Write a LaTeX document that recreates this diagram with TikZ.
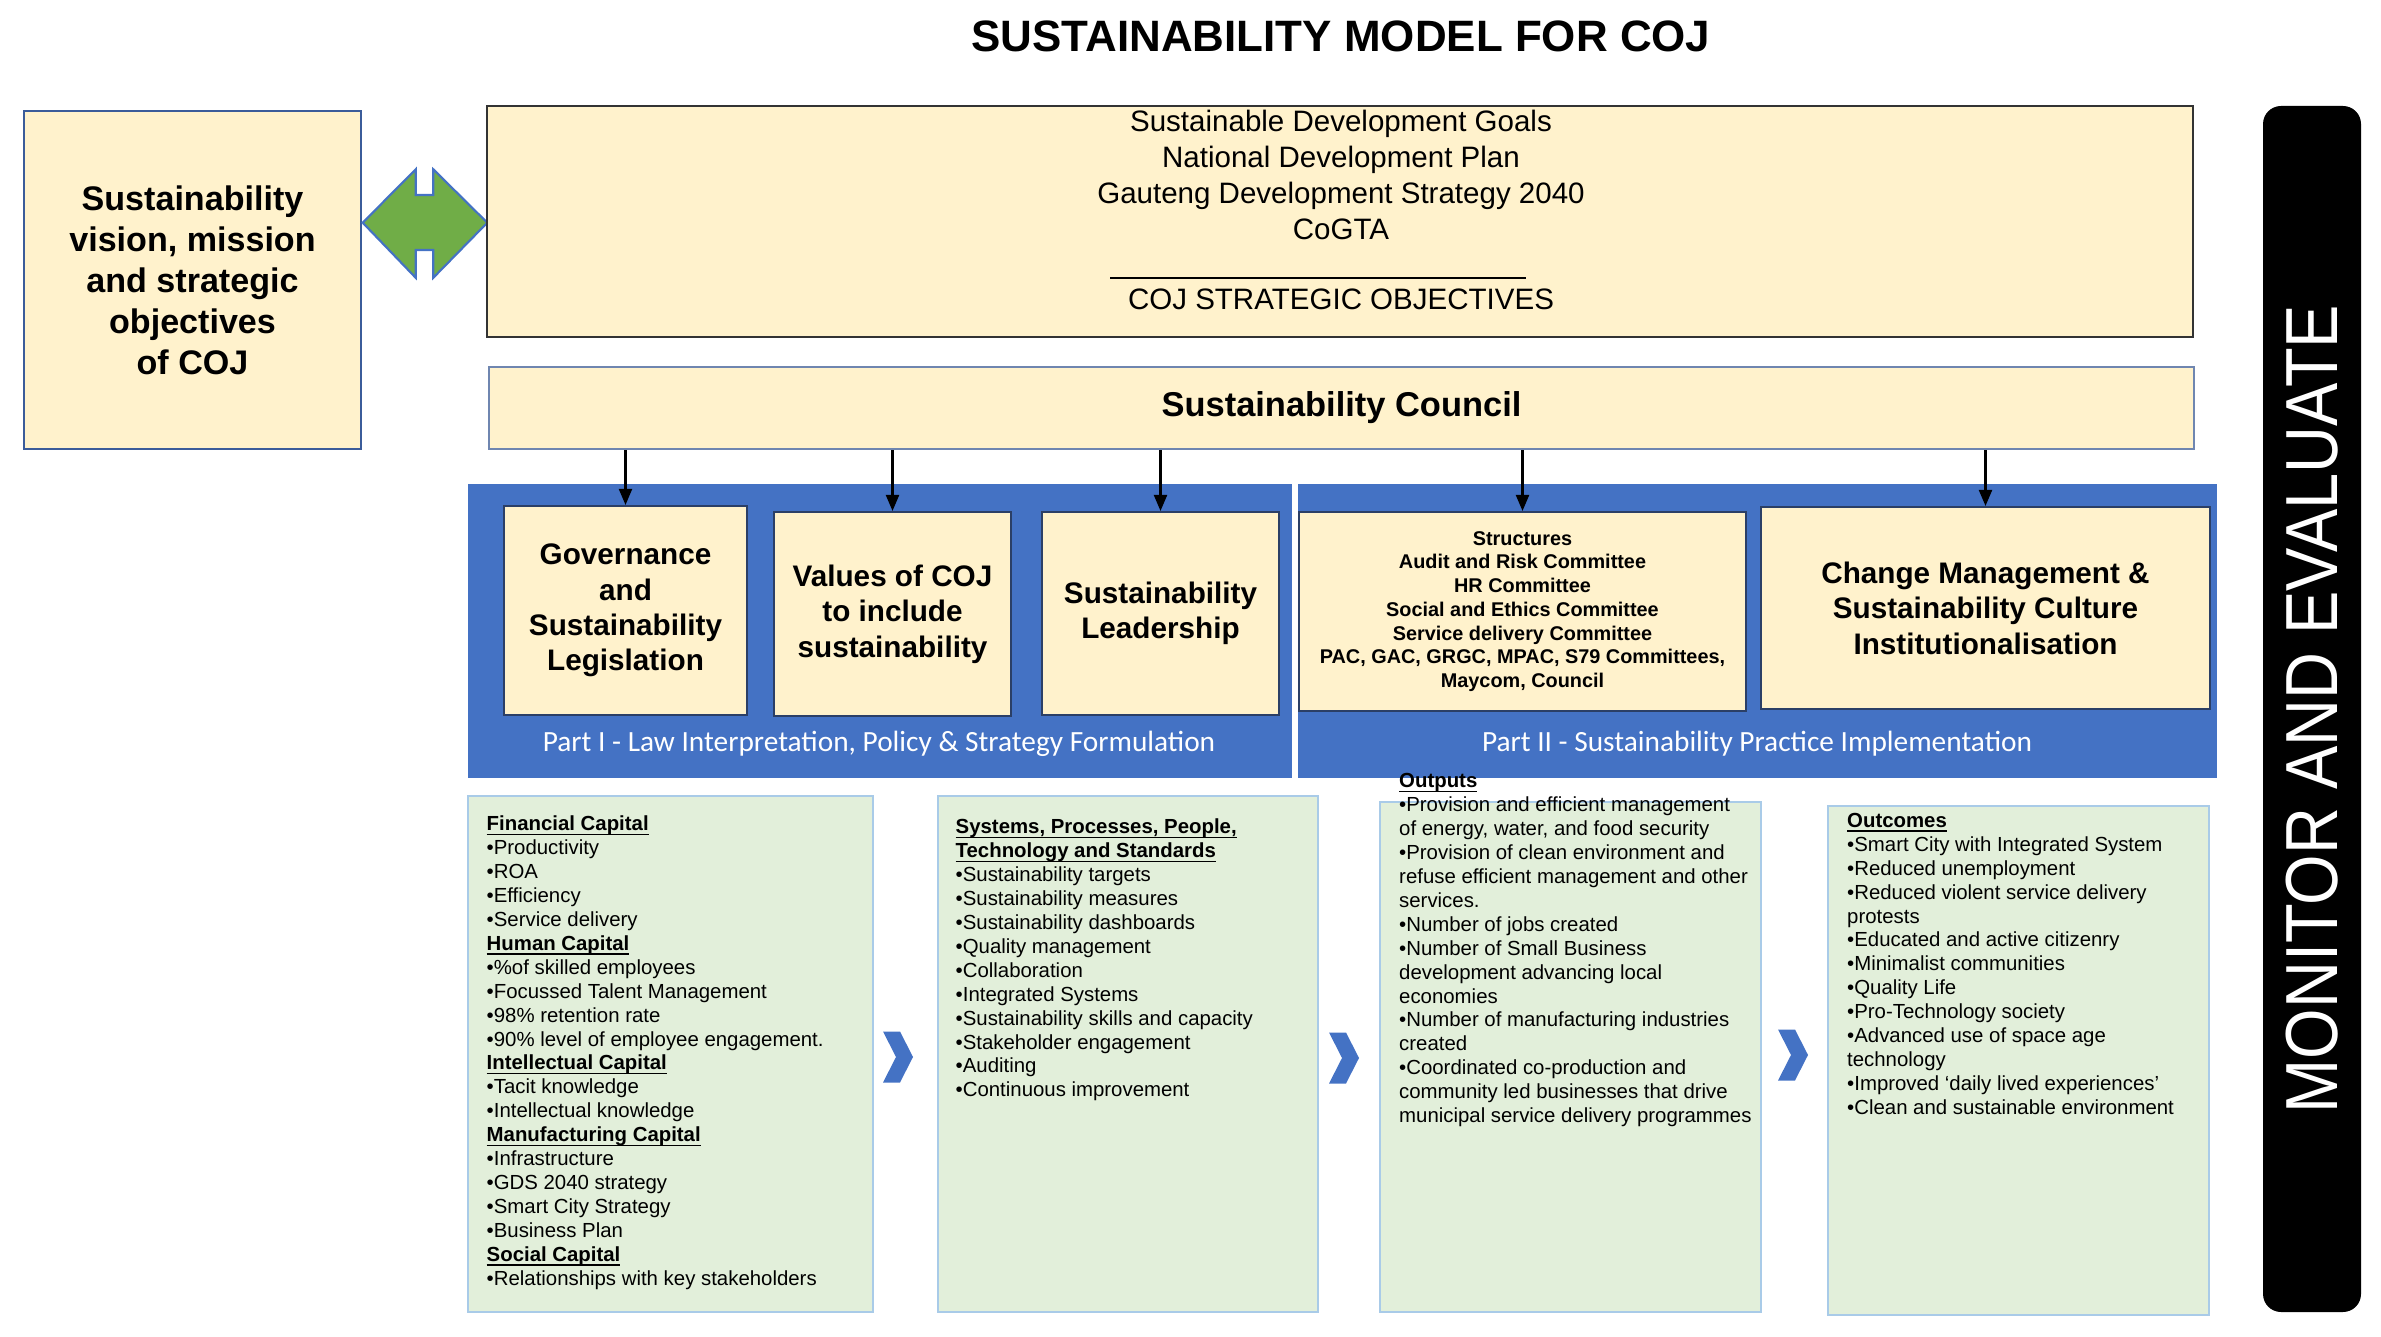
\documentclass[tikz,border=0pt]{standalone}
\usepackage{fontspec}
\usepackage{graphicx}
\setmainfont{Liberation Sans}
\newfontfamily\calibrifont{Carlito}
\usetikzlibrary{positioning,arrows.meta}
\definecolor{PaleCream}{HTML}{FFF2CC}
\definecolor{RoyalBlue}{HTML}{4472C4}
\definecolor{EdgeBlue}{HTML}{3B5C9A}
\definecolor{DarkEdge}{HTML}{2B3F66}
\definecolor{CouncilEdge}{HTML}{6F86B0}
\definecolor{FrameGray}{HTML}{333333}
\definecolor{LeafGreen}{HTML}{70AD47}
\definecolor{MintWash}{HTML}{E2EFDA}
\definecolor{SkyEdge}{HTML}{A9CBE8}
\newcommand\tightlines{\lineskiplimit-20pt\relax}
% bold heading with a rule close under the baseline
\newcommand\capheading[1]{\setbox0\hbox{\textbf{#1}}\rlap{\vrule height-0.85pt depth1.25pt width\wd0}\box0}

\begin{document}
\begin{tikzpicture}[x=1cm,y=-1cm,
  cream/.style={draw=EdgeBlue,line width=0.6pt,fill=PaleCream,inner sep=2pt,align=center},
  pillar/.style={cream,draw=DarkEdge,font=\bfseries\fontsize{8.45}{10.07}\selectfont},
  panelbox/.style={fill=RoyalBlue,draw=none},
  listbox/.style={draw=SkyEdge,line width=0.6pt,fill=MintWash},
  listtext/.style={anchor=north west,inner sep=0pt,align=left,font=\fontsize{5.8}{6.8}\selectfont\tightlines},
  feed/.style={-{Triangle[length=1.6mm,width=1.3mm]},line width=0.6pt}]
  \useasboundingbox (0,0) rectangle (23.81,13.37);

  \node[font=\bfseries\fontsize{12.5}{15}\selectfont] (title) at (13.41,0.36) {SUSTAINABILITY MODEL FOR COJ};

  % vision box and the link to the frameworks
  \node[cream,minimum width=3.37cm,minimum height=3.38cm,font=\bfseries\fontsize{9.7}{11.66}\selectfont] (vision) at (1.925,2.80)
    {Sustainability\\vision, mission\\and strategic\\objectives\\of COJ};
  \filldraw[fill=LeafGreen,draw=RoyalBlue,line width=0.6pt] (3.627,2.227) -- (4.157,1.693) -- (4.157,1.95) -- (4.333,1.95) -- (4.333,1.693)
    -- (4.873,2.227) -- (4.333,2.778) -- (4.333,2.50) -- (4.157,2.50) -- (4.157,2.778) -- cycle;

  % frameworks
  \node[cream,draw=FrameGray,line width=0.75pt,minimum width=17.06cm,minimum height=2.31cm] (frame) at (13.40,2.215) {};
  \node[font=\fontsize{8.4}{10.2}\selectfont,align=center] (goals) at (13.41,1.75)
    {Sustainable Development Goals\\National Development Plan\\Gauteng Development Strategy 2040\\CoGTA};
  \node[font=\fontsize{8.4}{10.2}\selectfont] (objectives) at (13.41,2.99) {COJ STRATEGIC OBJECTIVES};
  \draw[line width=0.5pt] (11.10,2.78) -- (15.26,2.78);

  \node[cream,draw=CouncilEdge,minimum width=17.05cm,minimum height=0.82cm,font=\bfseries\fontsize{9.8}{12}\selectfont] (council) at (13.415,4.08)
    {Sustainability Council};

  % part I and part II
  \node[panelbox,minimum width=8.24cm,minimum height=2.94cm] (partone) at (8.80,6.31) {};
  \node[panelbox,minimum width=9.195cm,minimum height=2.94cm] (parttwo) at (17.5725,6.31) {};
  \node[text=white,font=\calibrifont\fontsize{8.35}{10}\selectfont] (partonelabel) at (8.79,7.44)
    {Part I - Law Interpretation, Policy \& Strategy Formulation};
  \node[text=white,font=\calibrifont\fontsize{8.35}{10}\selectfont] (parttwolabel) at (17.57,7.44)
    {Part II - Sustainability Practice Implementation};

  \node[pillar,minimum width=2.43cm,minimum height=2.09cm] (governance) at (6.255,6.105) {Governance\\and\\Sustainability\\Legislation};
  \node[pillar,minimum width=2.37cm,minimum height=2.04cm] (values) at (8.925,6.14) {Values of COJ\\to include\\sustainability};
  \node[pillar,minimum width=2.37cm,minimum height=2.03cm] (leadership) at (11.605,6.135) {Sustainability\\Leadership};
  \node[pillar,minimum width=4.47cm,minimum height=1.99cm,font=\bfseries\fontsize{5.65}{6.74}\selectfont] (structures) at (15.225,6.115)
    {Structures\\Audit and Risk Committee\\HR Committee\\Social and Ethics Committee\\Service delivery Committee\\PAC, GAC, GRGC, MPAC, S79 Committees,\\Maycom, Council};
  \node[pillar,minimum width=4.49cm,minimum height=2.02cm] (change) at (19.855,6.08) {Change Management \&\\Sustainability Culture\\Institutionalisation};

  \foreach \pillarname in {governance,values,leadership,structures,change}
    \draw[feed] (\pillarname.north |- council.south) -- (\pillarname.north);

  % capitals, systems, outputs, outcomes
  \node[listbox,minimum width=4.05cm,minimum height=5.16cm] (capitals) at (6.705,10.54) {};
  \node[listbox,minimum width=3.80cm,minimum height=5.16cm] (systems) at (11.28,10.54) {};
  \node[listbox,minimum width=3.81cm,minimum height=5.10cm] (outputs) at (15.705,10.57) {};
  \node[listbox,minimum width=3.81cm,minimum height=5.09cm] (outcomes) at (20.185,10.605) {};

  \node[listtext] (capitalstext) at (4.86,8.155)
    {\capheading{Financial Capital}\\•Productivity\\•ROA\\•Efficiency\\•Service delivery\\
     \capheading{Human Capital}\\•\%of skilled employees\\•Focussed Talent Management\\•98\% retention rate\\•90\% level of employee engagement.\\
     \capheading{Intellectual Capital}\\•Tacit knowledge\\•Intellectual knowledge\\
     \capheading{Manufacturing Capital}\\•Infrastructure\\•GDS 2040 strategy\\•Smart City Strategy\\•Business Plan\\
     \capheading{Social Capital}\\•Relationships with key stakeholders};
  \node[listtext] (systemstext) at (9.55,8.185)
    {\capheading{Systems, Processes, People,}\\\capheading{Technology and Standards}\\•Sustainability targets\\•Sustainability measures\\
     •Sustainability dashboards\\•Quality management\\•Collaboration\\•Integrated Systems\\•Sustainability skills and capacity\\
     •Stakeholder engagement\\•Auditing\\•Continuous improvement};
  \node[listtext] (outputstext) at (13.985,7.73)
    {\capheading{Outputs}\\•Provision and efficient management\\of energy, water, and food security\\•Provision of clean environment and\\
     refuse efficient management and other\\services.\\•Number of jobs created\\•Number of Small Business\\development advancing local\\
     economies\\•Number of manufacturing industries\\created\\•Coordinated co-production and\\community led businesses that drive\\
     municipal service delivery programmes};
  \node[listtext] (outcomestext) at (18.465,8.125)
    {\capheading{Outcomes}\\•Smart City with Integrated System\\•Reduced unemployment\\•Reduced violent service delivery\\protests\\
     •Educated and active citizenry\\•Minimalist communities\\•Quality Life\\•Pro-Technology society\\•Advanced use of space age\\technology\\
     •Improved ‘daily lived experiences’\\•Clean and sustainable environment};

  \foreach \cx/\cy in {8.98/10.57,13.44/10.58,17.93/10.55}
    \fill[RoyalBlue] (\cx-0.15,\cy-0.255) -- ++(0.17,0) -- (\cx+0.15,\cy) -- (\cx+0.02,\cy+0.255) -- ++(-0.17,0) -- (\cx-0.02,\cy) -- cycle;

  % monitor and evaluate bar
  \node[fill=black,rounded corners=0.18cm,rotate=90,minimum width=12.06cm,minimum height=0.98cm,text=white,font=\fontsize{21}{21}\selectfont] (monitor) at (23.12,7.09)
    {\scalebox{0.88}[1]{MONITOR AND EVALUATE}};
\end{tikzpicture}
\end{document}
